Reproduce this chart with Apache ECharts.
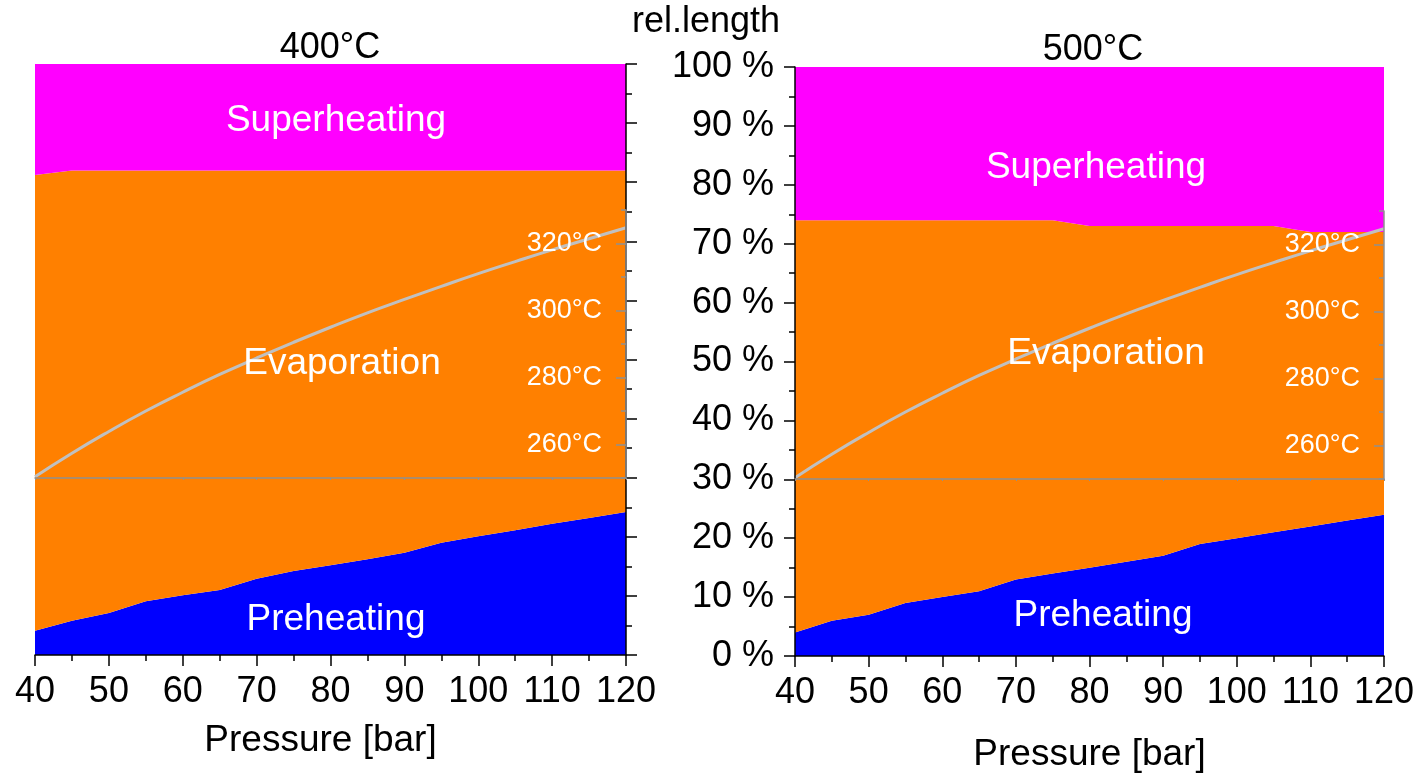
<!DOCTYPE html>
<html><head><meta charset="utf-8">
<script src="https://cdn.jsdelivr.net/npm/echarts@6/dist/echarts.min.js"></script>
<style>html,body{margin:0;padding:0;background:#fff}#c{width:1418px;height:774px}</style>
</head><body><div id="c"></div>
<script>
// ---- data ----
const pressures = [40,45,50,55,60,65,70,75,80,85,90,95,100,105,110,115,120];
// 400°C panel, shares in % of total length
const preheat400 = [4.1,5.8,7.1,9.1,10.1,11.0,12.9,14.2,15.2,16.2,17.3,19.0,20.1,21.1,22.2,23.2,24.2];
const evaporation400 = [77.1,76.2,74.9,72.9,71.9,71.0,69.1,67.8,66.8,65.8,64.7,63.0,61.9,60.9,59.8,58.8,57.8];
const superheat400 = [18.8,18,18,18,18,18,18,18,18,18,18,18,18,18,18,18,18];
// 500°C panel
const preheat500 = [4,6,7,9,10,11,13,14,15,16,17,19,20,21,22,23,24];
const evaporation500 = [70,68,67,65,64,63,61,60,58,57,56,54,53,52,50,49,48];
const superheat500 = [26,26,26,26,26,26,26,26,27,27,27,27,27,27,28,28,28];
// saturation temperature (°C) along the grey curve
const satTemp = [250.4,257.4,263.9,270.0,275.6,280.9,285.8,290.5,295.0,299.3,303.3,307.2,311.0,314.6,318.1,321.4,324.7];
// tick labels
const tempLabelTicks = [260,280,300,320];
const tempMinorTicks = [250,270,290,310,330];

const FONT = "'Liberation Sans', Arial, Helvetica, sans-serif";
const pairs = arr => pressures.map((p,i)=>[p,arr[i]]);

const chart = echarts.init(document.getElementById('c'), null, {renderer:'canvas'});

function pressureAxis(grid, gap, shift){
  return {type:'value', gridIndex:grid, min:40, max:120, interval:10, z:10,
    axisLine:{show:true, onZero:false, lineStyle:{color:'#000', width:1.5}},
    axisTick:{show:true, length:11, lineStyle:{color:'#000', width:1.5}},
    minorTick:{show:true, splitNumber:2, length:6, lineStyle:{color:'#000', width:1.5}},
    splitLine:{show:false}, minorSplitLine:{show:false},
    axisLabel:{fontSize:36, color:'#000', margin:19, fontFamily:FONT, showMinLabel:true, showMaxLabel:true},
    name:'Pressure [bar]', nameLocation:'middle', nameGap:gap,
    nameTextStyle:{fontSize:37, color:'#000', fontFamily:FONT, padding:[0,shift,0,0]}};
}
function catAxis(grid){
  return {type:'category', gridIndex:grid, data:pressures, boundaryGap:false, show:false,
    axisLine:{show:false}, axisTick:{show:false}, axisLabel:{show:false}, splitLine:{show:false}};
}
function tempXAxis(grid){
  return {type:'value', gridIndex:grid, min:40, max:120, interval:10, z:10,
    axisLine:{show:true, onZero:false, lineStyle:{color:'#909090', width:1.5}},
    axisTick:{show:true, length:2, lineStyle:{color:'#909090', width:1}},
    axisLabel:{show:false}, splitLine:{show:false}};
}
function pctAxis(grid, pos, showLabel){
  return {type:'value', gridIndex:grid, position:pos, min:0, max:100, interval:10, z:10,
    axisLine:{show:true, lineStyle:{color:'#000', width:1.5}},
    axisTick:{show:true, length:11, lineStyle:{color:'#000', width:1.5}},
    minorTick:{show:true, splitNumber:2, length:6, lineStyle:{color:'#000', width:1.5}},
    splitLine:{show:false}, minorSplitLine:{show:false},
    axisLabel:{show:showLabel, formatter:'{value} %', fontSize:36, color:'#000', margin:21, fontFamily:FONT,
      showMinLabel:true, showMaxLabel:true}};
}
function tempAxisMajor(grid){
  return {type:'value', gridIndex:grid, position:'right', min:250, max:330, interval:10, z:11,
    axisLine:{show:true, lineStyle:{color:'#909090', width:1.5}},
    axisTick:{show:true, inside:true, length:10, customValues:tempLabelTicks, lineStyle:{color:'#909090', width:1.5}},
    axisLabel:{show:true, inside:true, customValues:tempLabelTicks, margin:24, color:'#fff', fontSize:27, fontFamily:FONT,
      formatter: v => (v % 20 === 0 && v > 250 && v < 330) ? v + '°C' : ''},
    splitLine:{show:false}};
}
function tempAxisMinor(grid){
  return {type:'value', gridIndex:grid, position:'right', min:250, max:330, interval:10, z:11,
    axisLine:{show:false},
    axisTick:{show:true, inside:true, length:5, customValues:tempMinorTicks, lineStyle:{color:'#909090', width:1.5}},
    axisLabel:{show:false}, splitLine:{show:false}};
}
function areaSeries(xi, yi, stack, data, color){
  return {type:'line', xAxisIndex:xi, yAxisIndex:yi, stack:stack, data:data,
    symbol:'none', color:color, lineStyle:{width:0, color:color},
    areaStyle:{color:color, opacity:1}, emphasis:{disabled:true}, silent:true, z:2};
}
function satSeries(xi, yi){
  return {type:'line', xAxisIndex:xi, yAxisIndex:yi, data:pairs(satTemp), smooth:true,
    symbol:'none', lineStyle:{color:'#C0C0C0', width:3}, emphasis:{disabled:true}, silent:true, z:5};
}
function txt(x, y, text, size, color){
  return {type:'text', x:x, y:y, z:100, silent:true,
    style:{text:text, fill:color, font:size+'px '+FONT, fontSize:size, fontFamily:FONT,
      align:'center', verticalAlign:'middle', textAlign:'center', textVerticalAlign:'middle'}};
}

chart.setOption({
  animation:false,
  backgroundColor:'#fff',
  grid:[
    {left:35, top:64, width:591, height:591, outerBoundsMode:'none', containLabel:false},
    {left:35, top:210, width:591, height:268, outerBoundsMode:'none', containLabel:false},
    {left:795, top:67, width:589, height:589, outerBoundsMode:'none', containLabel:false},
    {left:795, top:211, width:589, height:268, outerBoundsMode:'none', containLabel:false}
  ],
  xAxis:[pressureAxis(0,67,20), tempXAxis(1), pressureAxis(2,80,0), tempXAxis(3), catAxis(0), catAxis(2)],
  yAxis:[pctAxis(0,'right',false), tempAxisMajor(1), tempAxisMinor(1),
         pctAxis(2,'left',true), tempAxisMajor(3), tempAxisMinor(3)],
  series:[
    areaSeries(4,0,'s400',preheat400,'#0000FF'),
    areaSeries(4,0,'s400',evaporation400,'#FF8000'),
    areaSeries(4,0,'s400',superheat400,'#FF00FF'),
    satSeries(1,1),
    areaSeries(5,3,'s500',preheat500,'#0000FF'),
    areaSeries(5,3,'s500',evaporation500,'#FF8000'),
    areaSeries(5,3,'s500',superheat500,'#FF00FF'),
    satSeries(3,4)
  ],
  graphic:[
    txt(330,48,'400°C',36,'#000'),
    txt(1093,50,'500°C',36,'#000'),
    txt(706,22,'rel.length',36,'#000'),
    txt(336,121,'Superheating',37,'#fff'),
    txt(342,364,'Evaporation',37,'#fff'),
    txt(336,620,'Preheating',37,'#fff'),
    txt(1096,168,'Superheating',37,'#fff'),
    txt(1106,354,'Evaporation',37,'#fff'),
    txt(1103,616,'Preheating',37,'#fff')
  ]
});
</script></body></html>
